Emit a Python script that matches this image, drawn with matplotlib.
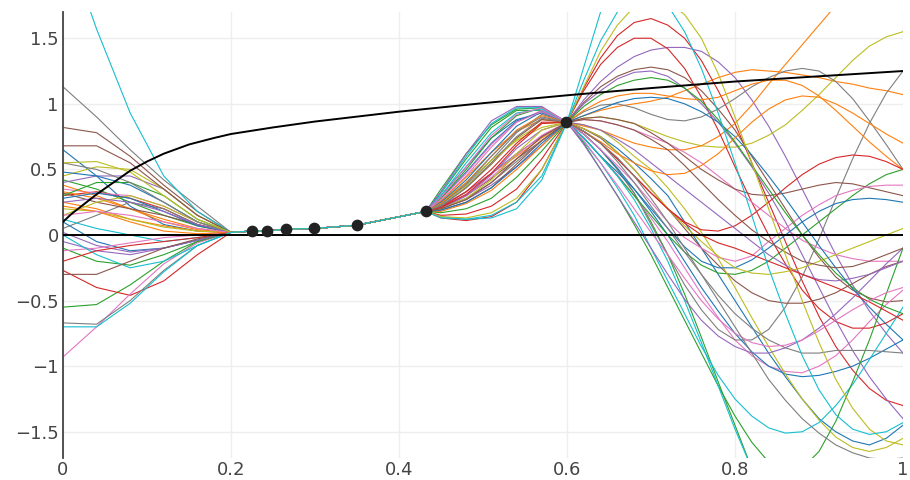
import matplotlib.pyplot as plt

# grid on which each sample path is given
x_left = [0.0, 0.04, 0.08, 0.12, 0.16]
x_obs = [0.2, 0.225, 0.243, 0.265, 0.3, 0.35, 0.432]
y_obs_path = [0.02, 0.03, 0.03, 0.045, 0.05, 0.075, 0.18]
x_mid = [0.45, 0.48, 0.51, 0.54, 0.57]
x_right = [0.62, 0.64, 0.66, 0.68, 0.70, 0.72, 0.74, 0.76, 0.78, 0.80,
           0.82, 0.84, 0.86, 0.88, 0.90, 0.92, 0.94, 0.96, 0.98, 1.0]

# observations
obs_x = [0.225, 0.243, 0.265, 0.299, 0.35, 0.432, 0.599]
obs_y = [0.03, 0.03, 0.045, 0.05, 0.075, 0.18, 0.86]
peak_x, peak_y = 0.6, 0.86

# reference function
ref_x = [0, 0.01, 0.02, 0.04, 0.06, 0.08, 0.1, 0.12, 0.15, 0.18, 0.2, 0.25,
         0.3, 0.4, 0.5, 0.6, 0.7, 0.8, 0.9, 1.0]
ref_y = [0.10, 0.16, 0.21, 0.31, 0.40, 0.49, 0.56, 0.62, 0.69, 0.74, 0.77, 0.82,
         0.865, 0.94, 1.005, 1.065, 1.12, 1.17, 1.21, 1.25]

# posterior samples: (left part, middle part, right part)
samples = [
    ([0.65, 0.45, 0.22, 0.08, 0.03], [0.3, 0.52, 0.74, 0.88, 0.93],
     [0.81, 0.75, 0.66, 0.55, 0.43, 0.3, 0.1, -0.1, -0.3, -0.5, -0.7, -0.9, -1.08, -1.25, -1.4, -1.5, -1.57, -1.6, -1.55, -1.45]),
    ([0.25, 0.2, 0.12, 0.07, 0.03], [0.22, 0.33, 0.47, 0.6, 0.74],
     [0.91, 0.95, 0.98, 1.0, 1.02, 1.05, 1.1, 1.15, 1.2, 1.24, 1.26, 1.25, 1.24, 1.22, 1.2, 1.17, 1.15, 1.12, 1.1, 1.07]),
    ([0.42, 0.35, 0.25, 0.15, 0.07], [0.32, 0.58, 0.82, 0.95, 0.95],
     [0.77, 0.65, 0.5, 0.32, 0.1, -0.15, -0.45, -0.78, -1.12, -1.45, -1.78, -2.05, -2.25, -2.4, -2.45, -2.5, -2.45, -2.4, -2.3, -2.2]),
    ([0.3, 0.33, 0.28, 0.2, 0.08], [0.13, 0.11, 0.14, 0.25, 0.5],
     [1.12, 1.35, 1.52, 1.62, 1.65, 1.6, 1.5, 1.33, 1.1, 0.85, 0.55, 0.25, -0.05, -0.35, -0.62, -0.85, -1.03, -1.17, -1.26, -1.3]),
    ([0.4, 0.45, 0.45, 0.35, 0.15], [0.2, 0.27, 0.38, 0.52, 0.68],
     [1.03, 1.17, 1.28, 1.36, 1.41, 1.43, 1.43, 1.4, 1.32, 1.2, 1.03, 0.83, 0.6, 0.35, 0.1, -0.15, -0.38, -0.58, -0.75, -0.9]),
    ([0.82, 0.78, 0.6, 0.38, 0.18], [0.21, 0.3, 0.43, 0.58, 0.72],
     [1.01, 1.13, 1.21, 1.26, 1.28, 1.26, 1.2, 1.1, 0.96, 0.8, 0.6, 0.4, 0.2, 0.0, -0.17, -0.32, -0.42, -0.48, -0.51, -0.5]),
    ([0.35, 0.32, 0.3, 0.22, 0.1], [0.26, 0.45, 0.67, 0.86, 0.95],
     [0.74, 0.6, 0.46, 0.3, 0.13, -0.05, -0.25, -0.45, -0.63, -0.8, -0.92, -1.0, -1.04, -1.05, -1.0, -0.92, -0.8, -0.66, -0.53, -0.42]),
    ([1.13, 0.9, 0.65, 0.42, 0.22], [0.24, 0.38, 0.57, 0.78, 0.92],
     [0.77, 0.65, 0.5, 0.32, 0.08, -0.15, -0.38, -0.57, -0.72, -0.8, -0.8, -0.72, -0.55, -0.32, -0.03, 0.28, 0.58, 0.85, 1.08, 1.25]),
    ([0.45, 0.52, 0.5, 0.35, 0.15], [0.25, 0.4, 0.57, 0.72, 0.82],
     [0.89, 0.9, 0.88, 0.85, 0.8, 0.75, 0.71, 0.68, 0.67, 0.67, 0.7, 0.76, 0.84, 0.95, 1.07, 1.2, 1.33, 1.44, 1.51, 1.55]),
    ([2.3, 1.57, 0.93, 0.45, 0.18], [0.14, 0.12, 0.13, 0.2, 0.42],
     [1.28, 1.7, 2.05, 2.35, 2.6, 2.8, 2.95, 3.05, 3.1, 3.1, 3.05, 3.0, 2.9, 2.8, 2.7, 2.6, 2.5, 2.4, 2.3, 2.2]),
    ([0.48, 0.45, 0.38, 0.25, 0.1], [0.28, 0.48, 0.7, 0.87, 0.94],
     [0.77, 0.65, 0.51, 0.35, 0.18, 0.0, -0.2, -0.4, -0.58, -0.75, -0.89, -1.0, -1.06, -1.08, -1.07, -1.04, -1.0, -0.94, -0.87, -0.8]),
    ([0.38, 0.3, 0.2, 0.1, 0.04], [0.26, 0.44, 0.63, 0.79, 0.88],
     [0.83, 0.8, 0.75, 0.7, 0.67, 0.65, 0.65, 0.68, 0.75, 0.85, 0.99, 1.15, 1.3, 1.45, 1.6, 1.75, 1.88, 2.0, 2.07, 2.1]),
    ([-0.55, -0.53, -0.38, -0.2, -0.05], [0.35, 0.62, 0.84, 0.96, 0.97],
     [0.74, 0.6, 0.45, 0.3, 0.15, 0.0, -0.13, -0.23, -0.29, -0.3, -0.27, -0.2, -0.1, 0.0, 0.1, 0.2, 0.3, 0.39, 0.46, 0.5]),
    ([-0.27, -0.4, -0.46, -0.35, -0.15], [0.15, 0.16, 0.22, 0.35, 0.58],
     [1.1, 1.3, 1.43, 1.5, 1.5, 1.42, 1.27, 1.05, 0.8, 0.52, 0.25, 0.0, -0.22, -0.42, -0.56, -0.66, -0.71, -0.71, -0.67, -0.6]),
    ([-0.05, -0.12, -0.15, -0.1, -0.04], [0.22, 0.33, 0.47, 0.62, 0.75],
     [1.0, 1.1, 1.19, 1.24, 1.25, 1.21, 1.12, 1.0, 0.86, 0.7, 0.52, 0.32, 0.1, -0.15, -0.4, -0.65, -0.88, -1.08, -1.25, -1.4]),
    ([0.68, 0.68, 0.55, 0.35, 0.15], [0.22, 0.36, 0.54, 0.74, 0.88],
     [0.81, 0.74, 0.63, 0.5, 0.35, 0.2, 0.05, -0.1, -0.23, -0.35, -0.44, -0.5, -0.52, -0.52, -0.49, -0.44, -0.37, -0.3, -0.24, -0.2]),
    ([-0.93, -0.7, -0.45, -0.22, -0.06], [0.2, 0.3, 0.44, 0.61, 0.76],
     [0.88, 0.87, 0.84, 0.8, 0.75, 0.7, 0.63, 0.55, 0.45, 0.35, 0.25, 0.15, 0.05, -0.04, -0.1, -0.15, -0.18, -0.2, -0.2, -0.2]),
    ([0.05, 0.15, 0.25, 0.2, 0.08], [0.2, 0.28, 0.4, 0.56, 0.72],
     [0.94, 0.99, 1.0, 0.97, 0.92, 0.88, 0.87, 0.9, 0.96, 1.04, 1.13, 1.2, 1.25, 1.27, 1.25, 1.17, 1.04, 0.87, 0.69, 0.5]),
    ([0.2, 0.18, 0.12, 0.06, 0.03], [0.23, 0.37, 0.55, 0.73, 0.85],
     [0.84, 0.8, 0.71, 0.6, 0.5, 0.36, 0.2, 0.02, -0.18, -0.4, -0.63, -0.85, -1.06, -1.25, -1.41, -1.54, -1.62, -1.65, -1.62, -1.55]),
    ([0.12, 0.05, 0.0, -0.05, -0.02], [0.32, 0.6, 0.85, 0.97, 0.97],
     [0.71, 0.55, 0.36, 0.15, -0.1, -0.35, -0.6, -0.85, -1.07, -1.25, -1.38, -1.47, -1.51, -1.5, -1.43, -1.3, -1.14, -0.95, -0.75, -0.55]),
    ([0.1, -0.05, -0.12, -0.1, -0.04], [0.25, 0.42, 0.63, 0.83, 0.94],
     [0.74, 0.6, 0.48, 0.35, 0.2, 0.05, -0.09, -0.2, -0.25, -0.25, -0.19, -0.1, 0.0, 0.1, 0.18, 0.24, 0.27, 0.28, 0.27, 0.25]),
    ([0.33, 0.28, 0.2, 0.12, 0.05], [0.18, 0.24, 0.34, 0.5, 0.68],
     [0.95, 1.02, 1.06, 1.08, 1.08, 1.06, 1.04, 1.03, 1.05, 1.1, 1.15, 1.18, 1.18, 1.14, 1.06, 0.95, 0.83, 0.71, 0.6, 0.5]),
    ([-0.1, -0.2, -0.23, -0.15, -0.05], [0.28, 0.5, 0.74, 0.91, 0.97],
     [0.7, 0.5, 0.3, 0.08, -0.15, -0.4, -0.65, -0.9, -1.15, -1.38, -1.58, -1.73, -1.8, -1.78, -1.65, -1.42, -1.12, -0.8, -0.45, -0.1]),
    ([0.0, 0.0, 0.0, 0.0, 0.0], [0.21, 0.33, 0.5, 0.7, 0.86],
     [0.79, 0.7, 0.58, 0.45, 0.32, 0.2, 0.1, 0.04, 0.03, 0.07, 0.15, 0.25, 0.36, 0.46, 0.54, 0.59, 0.61, 0.6, 0.56, 0.5]),
    ([0.02, -0.08, -0.13, -0.1, -0.04], [0.2, 0.3, 0.46, 0.66, 0.8],
     [0.84, 0.8, 0.73, 0.65, 0.55, 0.45, 0.35, 0.25, 0.15, 0.05, -0.05, -0.15, -0.23, -0.3, -0.34, -0.35, -0.33, -0.3, -0.25, -0.2]),
    ([0.32, 0.25, 0.2, 0.15, 0.08], [0.19, 0.25, 0.36, 0.54, 0.72],
     [0.89, 0.9, 0.88, 0.85, 0.78, 0.7, 0.6, 0.5, 0.42, 0.35, 0.31, 0.3, 0.32, 0.35, 0.38, 0.4, 0.39, 0.36, 0.33, 0.3]),
    ([-0.12, -0.1, -0.06, -0.02, 0.0], [0.27, 0.47, 0.69, 0.86, 0.94],
     [0.77, 0.65, 0.53, 0.4, 0.25, 0.1, -0.02, -0.1, -0.17, -0.2, -0.16, -0.05, 0.05, 0.15, 0.23, 0.3, 0.34, 0.37, 0.38, 0.38]),
    ([-0.67, -0.68, -0.5, -0.27, -0.08], [0.22, 0.36, 0.55, 0.75, 0.89],
     [0.79, 0.7, 0.56, 0.4, 0.22, 0.05, -0.13, -0.3, -0.46, -0.6, -0.71, -0.8, -0.86, -0.9, -0.9, -0.88, -0.88, -0.88, -0.89, -0.9]),
    ([0.15, 0.25, 0.3, 0.22, 0.1], [0.2, 0.28, 0.42, 0.62, 0.8],
     [0.81, 0.75, 0.63, 0.5, 0.35, 0.2, 0.07, -0.05, -0.16, -0.25, -0.29, -0.3, -0.28, -0.25, -0.2, -0.15, -0.1, -0.05, 0.0, 0.05]),
    ([0.0, -0.15, -0.25, -0.2, -0.08], [0.3, 0.55, 0.78, 0.93, 0.96],
     [0.74, 0.6, 0.45, 0.27, 0.05, -0.2, -0.5, -0.82, -1.15, -1.48, -1.78, -2.0, -2.15, -2.2, -2.2, -2.15, -2.05, -1.95, -1.85, -1.75]),
    ([0.28, 0.32, 0.28, 0.18, 0.07], [0.19, 0.25, 0.36, 0.52, 0.7],
     [0.91, 0.96, 1.01, 1.04, 1.05, 1.04, 1.0, 0.94, 0.86, 0.75, 0.61, 0.45, 0.28, 0.1, -0.08, -0.25, -0.41, -0.55, -0.68, -0.8]),
    ([0.22, 0.18, 0.1, 0.03, 0.01], [0.24, 0.4, 0.6, 0.8, 0.91],
     [0.79, 0.71, 0.62, 0.55, 0.49, 0.46, 0.47, 0.53, 0.62, 0.74, 0.86, 0.96, 1.03, 1.06, 1.05, 1.0, 0.93, 0.85, 0.77, 0.7]),
    ([0.3, 0.4, 0.4, 0.3, 0.12], [0.17, 0.2, 0.28, 0.44, 0.64],
     [0.98, 1.07, 1.14, 1.18, 1.2, 1.18, 1.12, 1.02, 0.88, 0.71, 0.53, 0.35, 0.17, 0.0, -0.15, -0.29, -0.4, -0.49, -0.55, -0.6]),
    ([-0.2, -0.12, -0.08, -0.05, -0.02], [0.21, 0.31, 0.47, 0.68, 0.85],
     [0.79, 0.7, 0.58, 0.45, 0.32, 0.2, 0.09, 0.0, -0.06, -0.1, -0.15, -0.2, -0.25, -0.3, -0.35, -0.4, -0.45, -0.51, -0.58, -0.65]),
    ([0.25, 0.28, 0.25, 0.18, 0.08], [0.33, 0.62, 0.87, 0.98, 0.98],
     [0.69, 0.5, 0.3, 0.1, -0.1, -0.3, -0.49, -0.65, -0.77, -0.85, -0.9, -0.9, -0.86, -0.8, -0.71, -0.6, -0.48, -0.35, -0.22, -0.1]),
    ([-0.3, -0.3, -0.2, -0.1, -0.03], [0.2, 0.27, 0.4, 0.58, 0.75],
     [0.88, 0.87, 0.84, 0.8, 0.73, 0.65, 0.53, 0.4, 0.27, 0.15, 0.04, -0.05, -0.13, -0.2, -0.23, -0.25, -0.24, -0.2, -0.15, -0.1]),
    ([0.15, 0.18, 0.15, 0.1, 0.05], [0.29, 0.52, 0.76, 0.92, 0.97],
     [0.72, 0.55, 0.38, 0.2, 0.02, -0.15, -0.33, -0.5, -0.64, -0.75, -0.82, -0.85, -0.84, -0.8, -0.73, -0.65, -0.57, -0.5, -0.44, -0.4]),
    ([0.55, 0.5, 0.4, 0.25, 0.1], [0.23, 0.39, 0.6, 0.79, 0.9],
     [0.79, 0.7, 0.59, 0.45, 0.28, 0.1, -0.1, -0.3, -0.5, -0.7, -0.9, -1.1, -1.26, -1.4, -1.51, -1.6, -1.66, -1.7, -1.71, -1.7]),
    ([0.55, 0.56, 0.48, 0.3, 0.12], [0.14, 0.13, 0.17, 0.28, 0.5],
     [1.13, 1.4, 1.6, 1.74, 1.8, 1.78, 1.68, 1.5, 1.23, 0.9, 0.55, 0.2, -0.15, -0.5, -0.82, -1.1, -1.32, -1.48, -1.57, -1.6]),
    ([-0.7, -0.7, -0.52, -0.28, -0.08], [0.13, 0.12, 0.15, 0.25, 0.45],
     [1.18, 1.48, 1.7, 1.83, 1.85, 1.75, 1.55, 1.27, 0.93, 0.55, 0.15, -0.25, -0.6, -0.92, -1.18, -1.37, -1.48, -1.52, -1.5, -1.43]),
]

palette = ['#1f77b4', '#ff7f0e', '#2ca02c', '#d62728', '#9467bd',
           '#8c564b', '#e377c2', '#7f7f7f', '#bcbd22', '#17becf']

fig = plt.figure(figsize=(9.1, 4.8), dpi=100)
ax = fig.add_axes([0.0692, 0.0458, 0.9231, 0.9292])

xs = x_left + x_obs + x_mid + [peak_x] + x_right
for i, (left, mid, right) in enumerate(samples):
    ys = left + y_obs_path + mid + [peak_y] + right
    ax.plot(xs, ys, color=palette[i % 10], lw=0.8, zorder=2)

ax.plot(ref_x, ref_y, color='black', lw=1.4, zorder=3)
ax.axhline(0, color='black', lw=1.4, zorder=3)
ax.scatter(obs_x, obs_y, s=55, color='#222222', zorder=4)

ax.set_xlim(0, 1)
ax.set_ylim(-1.7, 1.7)
ax.set_xticks([0, 0.2, 0.4, 0.6, 0.8, 1])
ax.set_xticklabels(['0', '0.2', '0.4', '0.6', '0.8', '1'])
ax.set_yticks([-1.5, -1, -0.5, 0, 0.5, 1, 1.5])
ax.set_yticklabels(['\u22121.5', '\u22121', '\u22120.5', '0', '0.5', '1', '1.5'])
ax.tick_params(length=0, labelsize=13, labelcolor='#444444')
ax.tick_params(axis='x', pad=2)
ax.tick_params(axis='y', pad=3)
ax.grid(True, color='#eeeeee', lw=1)
ax.set_axisbelow(True)
for side in ['top', 'right', 'bottom']:
    ax.spines[side].set_visible(False)
ax.spines['left'].set_color('#444444')
ax.spines['left'].set_linewidth(1.3)

plt.savefig('out.png')
